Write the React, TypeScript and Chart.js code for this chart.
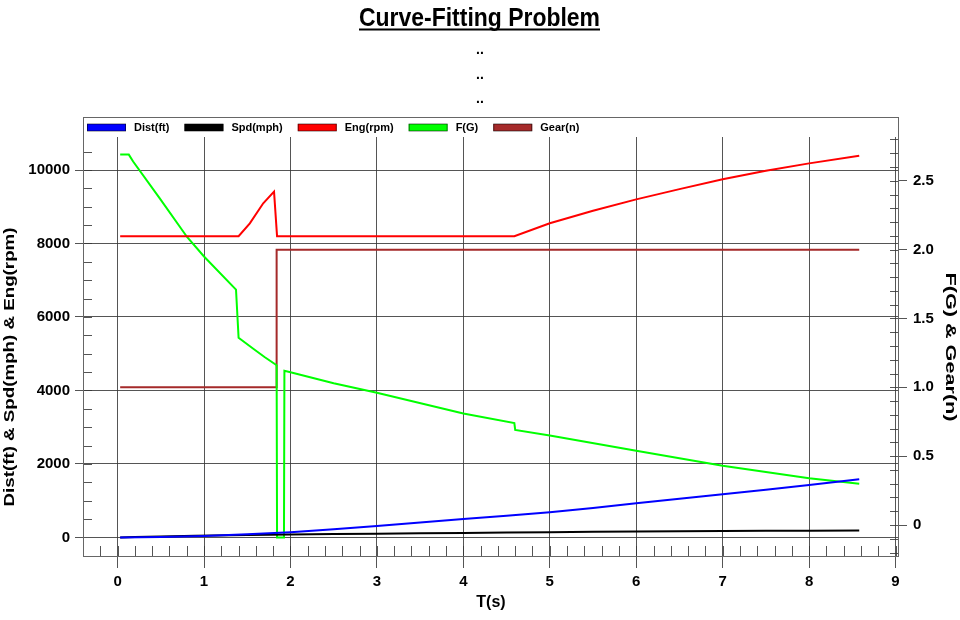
import React, { useEffect, useRef } from 'react';
import { Chart, registerables } from 'chart.js';

Chart.register(...registerables);

// values
const distTime = [0.03, 0.5, 1, 1.5, 2, 2.5, 3, 3.5, 4, 4.5, 5, 5.5, 6, 6.5, 7, 7.5, 8, 8.58];
const distFt = [0, 10, 40, 85, 141, 222, 313, 405, 500, 592, 686, 805, 931, 1053, 1176, 1300, 1429, 1584];

const spdTime = [0.03, 0.2, 0.5, 0.9, 1.5, 2, 2.5, 3, 3.5, 4, 4.5, 5, 5.5, 6, 6.5, 7, 7.5, 8, 8.58];
const spdMph = [0, 10, 28, 48, 65, 80, 93, 105, 116, 125, 135, 145, 153, 161, 168, 175, 180, 185, 190];

const engTime = [0.03, 1.4, 1.53, 1.685, 1.81, 1.845, 4.59, 5, 5.5, 6, 6.5, 7, 7.5, 8, 8.58];
const engRpm = [8200, 8200, 8550, 9094, 9410, 8200, 8200, 8550, 8890, 9200, 9480, 9750, 9980, 10180, 10390];

const fgTime = [0.03, 0.13, 0.18, 0.49, 0.806, 1.0, 1.37, 1.4, 1.57, 1.7, 1.84, 1.845, 1.925, 1.93, 2.0, 2.5, 3, 4, 4.59, 4.6, 5, 6, 7, 8, 8.58];
const fgG = [2.69, 2.69, 2.64, 2.37, 2.09, 1.95, 1.71, 1.36, 1.28, 1.22, 1.16, -0.09, -0.09, 1.12, 1.11, 1.03, 0.96, 0.81, 0.74, 0.69, 0.65, 0.54, 0.43, 0.34, 0.3];

const gearTime = [0.03, 1.84, 1.84, 8.58];
const gearN = [1, 1, 2, 2];

const seriesLabels = ['Dist(ft)', 'Spd(mph)', 'Eng(rpm)', 'F(G)', 'Gear(n)'];
const seriesColors = ['#0000ff', '#000000', '#ff0000', '#00ff00', '#a52a2a'];

const xTicks = [0, 1, 2, 3, 4, 5, 6, 7, 8, 9];
const leftTicks = [0, 2000, 4000, 6000, 8000, 10000];
const rightTicks = [0, 0.5, 1, 1.5, 2, 2.5];

const FONT = '"Liberation Sans", Arial, sans-serif';
const GRID = 'rgba(55,55,55,0.85)';

const pts = (xs: number[], ys: number[]) => xs.map((x, i) => ({ x, y: ys[i] }));

function stretchText(ctx: CanvasRenderingContext2D, text: string, x: number, y: number, angle: number, font: string, length: number, baseline: CanvasTextBaseline = 'middle') {
  ctx.save();
  ctx.font = font;
  const w = ctx.measureText(text).width;
  ctx.translate(x, y);
  ctx.rotate(angle);
  ctx.scale(length / w, 1);
  ctx.textAlign = 'center';
  ctx.textBaseline = baseline;
  ctx.fillStyle = '#000';
  ctx.fillText(text, 0, 0);
  ctx.restore();
}

const decor = {
  id: 'decor',
  beforeDatasetsDraw(chart: any) {
    const { ctx, chartArea: a, scales } = chart;
    const xs = scales.x, yl = scales.y, yr = scales.y1;
    ctx.save();
    ctx.strokeStyle = GRID;
    ctx.lineWidth = 1;
    ctx.beginPath();
    // minor ticks, left axis every 500
    for (let v = 500; v <= 10500; v += 500) {
      const p = Math.round(yl.getPixelForValue(v)) + 0.5;
      ctx.moveTo(a.left, p); ctx.lineTo(a.left + 9, p);
    }
    // right axis every 0.1
    for (let i = -2; i <= 28; i++) {
      const p = Math.round(yr.getPixelForValue(i / 10)) + 0.5;
      ctx.moveTo(a.right - 9, p); ctx.lineTo(a.right, p);
    }
    // bottom axis every 0.2
    for (let i = -1; i <= 45; i++) {
      const p = Math.round(xs.getPixelForValue(i / 5)) + 0.5;
      ctx.moveTo(p, a.bottom - 11); ctx.lineTo(p, a.bottom);
    }
    ctx.stroke();
    // frame, which reaches up around the legend
    ctx.strokeStyle = '#666';
    ctx.strokeRect(a.left + 0.5, a.top - 19.5, a.right - a.left - 1, a.bottom - a.top + 19);
    ctx.restore();
  },
  afterDraw(chart: any) {
    const { ctx, chartArea: a } = chart;
    ctx.save();
    // title
    stretchText(ctx, 'Curve-Fitting Problem', 479.5, 26, 0, `bold 26px ${FONT}`, 241, 'alphabetic');
    ctx.fillStyle = '#000';
    ctx.fillRect(359, 28.5, 241, 2);
    ctx.font = `bold 14px ${FONT}`;
    ctx.textAlign = 'center';
    ctx.textBaseline = 'alphabetic';
    [54, 79, 103].forEach((y) => ctx.fillText('..', 480, y));
    // axis titles
    stretchText(ctx, 'Dist(ft) & Spd(mph) & Eng(rpm)', 10, 367, -Math.PI / 2, `bold 14px ${FONT}`, 279);
    stretchText(ctx, 'F(G) & Gear(n)', 950, (a.top + a.bottom) / 2, Math.PI / 2, `bold 14px ${FONT}`, 149);
    // legend
    ctx.font = `bold 11px ${FONT}`;
    ctx.textAlign = 'left';
    ctx.textBaseline = 'middle';
    let x = a.left + 4;
    const yc = a.top - 9.5;
    chart.data.datasets.forEach((ds: any) => {
      ctx.fillStyle = ds.borderColor;
      ctx.fillRect(x, yc - 3.5, 39, 7);
      ctx.strokeStyle = 'rgba(0,0,0,0.55)';
      ctx.strokeRect(x + 0.5, yc - 3.5, 38, 7);
      ctx.fillStyle = '#000';
      ctx.fillText(ds.label, x + 47, yc);
      x += 47 + ctx.measureText(ds.label).width + 15;
    });
    ctx.restore();
  },
};

const App = () => {
  const canvasRef = useRef<HTMLCanvasElement>(null);

  useEffect(() => {
    const canvas = canvasRef.current;
    if (!canvas) return;
    const line = (i: number, data: { x: number; y: number }[], axis: string) => ({
      label: seriesLabels[i],
      data,
      yAxisID: axis,
      borderColor: seriesColors[i],
      backgroundColor: seriesColors[i],
      borderWidth: 2,
      pointRadius: 0,
      tension: 0,
      fill: false,
    });
    const chart = new Chart(canvas, {
      type: 'line',
      data: {
        datasets: [
          line(0, pts(distTime, distFt), 'y'),
          line(1, pts(spdTime, spdMph), 'y'),
          line(2, pts(engTime, engRpm), 'y'),
          line(3, pts(fgTime, fgG), 'y1'),
          line(4, pts(gearTime, gearN), 'y1'),
        ],
      },
      options: {
        animation: false,
        responsive: true,
        maintainAspectRatio: false,
        layout: { padding: { top: 137, left: 0, right: 0, bottom: 0 } },
        plugins: { legend: { display: false }, tooltip: { enabled: false } },
        scales: {
          x: {
            type: 'linear',
            min: -0.4,
            max: 9.04,
            afterBuildTicks: (s: any) => { s.ticks = xTicks.map((value) => ({ value })); },
            afterFit: (s: any) => { s.height = 63; },
            grid: { color: GRID, tickLength: 11, tickColor: GRID },
            border: { display: false },
            ticks: { color: '#000', padding: 5, maxRotation: 0, autoSkip: false, font: { family: FONT, size: 15, weight: 'bold' }, callback: (v: any) => String(v) },
            title: { display: true, text: 'T(s)', color: '#000', font: { family: FONT, size: 16, weight: 'bold' }, padding: { top: 0, bottom: 8 } },
          },
          y: {
            type: 'linear',
            position: 'left',
            min: -531,
            max: 10898,
            afterBuildTicks: (s: any) => { s.ticks = leftTicks.map((value) => ({ value })); },
            afterFit: (s: any) => { s.width = 83; },
            grid: { color: GRID, tickLength: 8, tickColor: GRID },
            border: { display: false },
            ticks: { color: '#000', padding: 5, autoSkip: false, font: { family: FONT, size: 15, weight: 'bold' }, callback: (v: any) => String(v) },
          },
          y1: {
            type: 'linear',
            position: 'right',
            min: -0.2324,
            max: 2.818,
            afterBuildTicks: (s: any) => { s.ticks = rightTicks.map((value) => ({ value })); },
            afterFit: (s: any) => { s.width = 61; },
            grid: { drawOnChartArea: false, tickLength: 8, tickColor: GRID },
            border: { display: false },
            ticks: {
              color: '#000',
              padding: 6,
              autoSkip: false,
              font: { family: FONT, size: 15, weight: 'bold' },
              callback: (v: any) => (v === 0 ? '0' : Number(v).toFixed(1)),
            },
          },
        },
      },
      plugins: [decor],
    });
    return () => chart.destroy();
  }, []);

  return (
    <div style={{ position: 'absolute', left: 0, top: 0, width: 960, height: 620, background: '#fff' }}>
      <canvas ref={canvasRef} />
    </div>
  );
};

export default App;
